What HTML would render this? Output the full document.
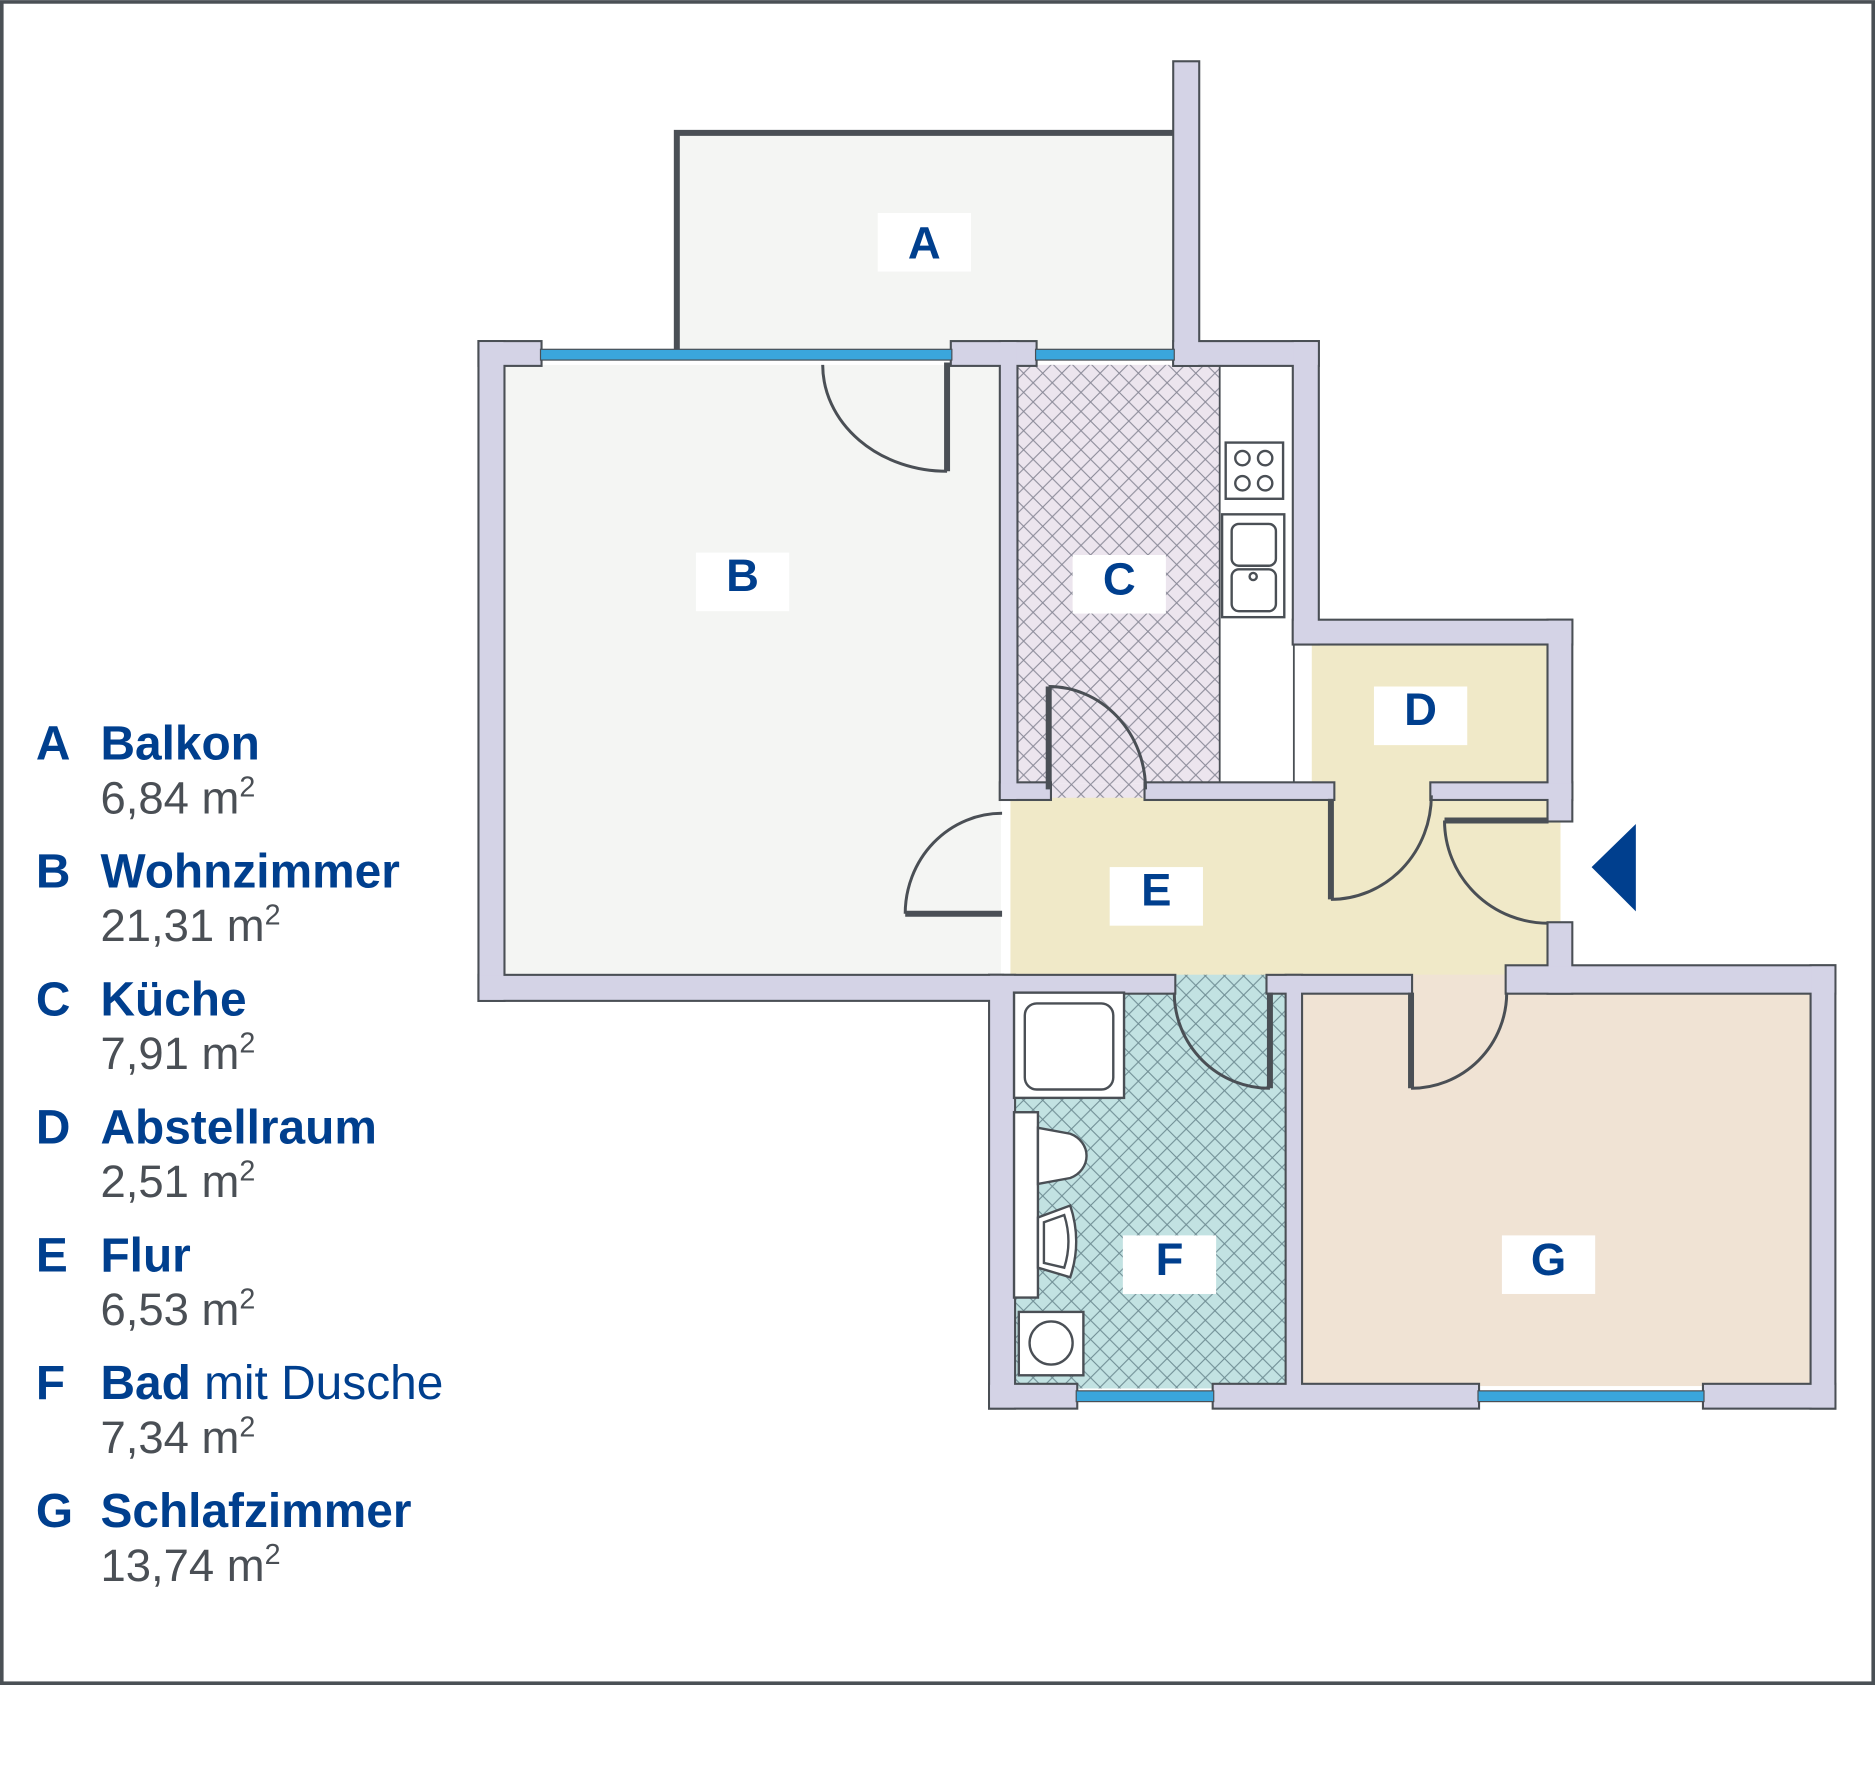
<!DOCTYPE html>
<html><head><meta charset="utf-8"><style>
html,body{margin:0;padding:0;background:#fff;}
svg{display:block;}
</style></head><body>
<svg width="1875" height="1782" viewBox="0 0 1568 1490" xmlns="http://www.w3.org/2000/svg" font-family="Liberation Sans, sans-serif">
<defs>
<pattern id="hc" width="16" height="16" patternUnits="userSpaceOnUse">
<rect width="16" height="16" fill="#ece5ee"/>
<path d="M0,0L16,16M16,0L0,16" stroke="#8a8a98" stroke-width="0.9"/>
</pattern>
<pattern id="hf" width="16" height="16" patternUnits="userSpaceOnUse">
<rect width="16" height="16" fill="#c2e2e2"/>
<path d="M0,0L16,16M16,0L0,16" stroke="#6f8d94" stroke-width="0.9"/>
</pattern>
<g id="walls">
<rect x="982" y="52" width="20" height="253"/>
<rect x="401" y="286" width="20" height="550"/>
<rect x="401" y="816" width="437" height="20"/>
<rect x="401" y="286" width="51" height="19"/>
<rect x="796" y="286" width="70" height="19"/>
<rect x="837" y="286" width="13" height="382"/>
<rect x="982" y="286" width="120" height="19"/>
<rect x="1082" y="286" width="20" height="252"/>
<rect x="1082" y="519" width="232" height="19"/>
<rect x="1295" y="519" width="19" height="167"/>
<rect x="837" y="655" width="41" height="13"/>
<rect x="958" y="655" width="157" height="13"/>
<rect x="1197" y="655" width="117" height="13"/>
<rect x="1295" y="772" width="19" height="58"/>
<rect x="828" y="816" width="154" height="14"/>
<rect x="1060" y="816" width="120" height="14"/>
<rect x="1260" y="808" width="274" height="22"/>
<rect x="828" y="816" width="20" height="361"/>
<rect x="1076" y="816" width="12" height="344"/>
<rect x="1515" y="808" width="19" height="369"/>
<rect x="828" y="1158" width="72" height="19"/>
<rect x="1015" y="1158" width="221" height="19"/>
<rect x="1425" y="1158" width="109" height="19"/>
</g>
</defs>
<rect x="1.5" y="1.5" width="1565" height="1406" fill="#fff" stroke="#4a5055" stroke-width="3"/>

<rect x="566" y="111" width="416" height="184" fill="#f4f5f3"/>
<path d="M566,293 L566,111 L982,111" fill="none" stroke="#4a4f55" stroke-width="5"/>

<rect x="421" y="305" width="416" height="511" fill="#f4f5f3"/>
<rect x="850" y="305" width="170" height="350" fill="url(#hc)"/>
<rect x="1020" y="305" width="62" height="350" fill="#fff" stroke="#4a4f55" stroke-width="1.5"/>
<rect x="878" y="655" width="80" height="13" fill="url(#hc)"/>
<rect x="1097" y="538" width="198" height="118" fill="#f0e9c8"/>
<rect x="845" y="667" width="460" height="150" fill="#f0e9c8"/>
<rect x="1115" y="655" width="82" height="14" fill="#f0e9c8"/>
<rect x="848" y="829" width="228" height="332" fill="url(#hf)"/>
<rect x="982" y="815" width="80" height="16" fill="url(#hf)"/>
<rect x="1088" y="829" width="427" height="330" fill="#f0e3d4"/>
<rect x="1180" y="815" width="80" height="16" fill="#f0e3d4"/>

<use href="#walls" fill="#d4d3e6" stroke="#4a4f55" stroke-width="3.5"/>
<use href="#walls" fill="#d4d3e6" stroke="none"/>

<g fill="#3aa6dc" stroke="#4a4f55" stroke-width="1">
<rect x="452" y="292" width="344" height="9"/>
<rect x="866" y="292" width="116" height="9"/>
<rect x="900" y="1163" width="115" height="9"/>
<rect x="1236" y="1163" width="189" height="9"/>
</g>

<g fill="none" stroke="#4a4f55" stroke-width="2.5">
<path d="M688,305 A104,89 0 0,0 792,394"/>
<path d="M877,574 A81,86 0 0,1 958,660"/>
<path d="M838,680 A81,84 0 0,0 757,764"/>
<path d="M1113,752 A84,87 0 0,0 1197,665"/>
<path d="M1208,686 A87,86 0 0,0 1295,772"/>
<path d="M982,830 A80,80 0 0,0 1062,910"/>
<path d="M1180,910 A80,80 0 0,0 1260,830"/>
</g>
<g stroke="#4a4f55" stroke-width="5" fill="none">
<path d="M792,303 L792,394"/>
<path d="M877,660 L877,574"/>
<path d="M757,764 L838,764"/>
<path d="M1113,668 L1113,752"/>
<path d="M1208,686 L1295,686"/>
<path d="M1062,830 L1062,910"/>
<path d="M1180,830 L1180,910"/>
</g>

<g fill="#fff" stroke="#4a4f55" stroke-width="2">
<rect x="1025" y="370" width="48" height="47"/>
<circle cx="1039" cy="383" r="6"/><circle cx="1058" cy="383" r="6"/>
<circle cx="1039" cy="404" r="6"/><circle cx="1058" cy="404" r="6"/>
<rect x="1022" y="430" width="52" height="86"/>
<rect x="1030" y="438" width="37" height="35" rx="6"/>
<rect x="1030" y="476" width="37" height="35" rx="6"/>
<circle cx="1048" cy="482" r="3"/>
<rect x="848" y="830" width="92" height="88"/>
<rect x="857" y="839" width="74" height="72" rx="10"/>
<rect x="848" y="930" width="20" height="155"/>
<path d="M868,943 L895,948 A22,20 0 0,1 895,985 L868,990 Z"/>
<path d="M868,1018 L895,1008 Q905,1038 895,1068 L868,1060 Z"/>
<path d="M873,1022 L890,1016 Q897,1038 890,1060 L873,1056 Z"/>
<rect x="852" y="1097" width="54" height="53"/>
<circle cx="879" cy="1123" r="18"/>
</g>

<path d="M1368,689 L1368,762 L1331,725 Z" fill="#003f8e"/>

<g fill="#fff">
<rect x="734" y="178" width="78" height="49"/>
<rect x="582" y="462" width="78" height="49"/>
<rect x="897" y="464" width="78" height="49"/>
<rect x="1149" y="574" width="78" height="49"/>
<rect x="928" y="725" width="78" height="49"/>
<rect x="939" y="1033" width="78" height="49"/>
<rect x="1256" y="1033" width="78" height="49"/>
</g>
<g fill="#003f8e" font-weight="bold" font-size="38" text-anchor="middle">
<text x="773" y="216">A</text>
<text x="621" y="494">B</text>
<text x="936" y="497">C</text>
<text x="1188" y="606">D</text>
<text x="967" y="757">E</text>
<text x="978" y="1066">F</text>
<text x="1295" y="1066">G</text>
</g>

<g font-size="40">
<g fill="#003f8e" font-weight="bold">
<text x="30" y="635">A</text><text x="84" y="635">Balkon</text>
<text x="30" y="742">B</text><text x="84" y="742">Wohnzimmer</text>
<text x="30" y="849">C</text><text x="84" y="849">Küche</text>
<text x="30" y="956">D</text><text x="84" y="956">Abstellraum</text>
<text x="30" y="1063">E</text><text x="84" y="1063">Flur</text>
<text x="30" y="1170">F</text><text x="84" y="1170">Bad <tspan font-weight="normal">mit Dusche</tspan></text>
<text x="30" y="1277">G</text><text x="84" y="1277">Schlafzimmer</text>
</g>
<g fill="#4a4f55" font-size="38">
<text x="84" y="680">6,84 m<tspan font-size="24" dy="-14">2</tspan></text>
<text x="84" y="787">21,31 m<tspan font-size="24" dy="-14">2</tspan></text>
<text x="84" y="894">7,91 m<tspan font-size="24" dy="-14">2</tspan></text>
<text x="84" y="1001">2,51 m<tspan font-size="24" dy="-14">2</tspan></text>
<text x="84" y="1108">6,53 m<tspan font-size="24" dy="-14">2</tspan></text>
<text x="84" y="1215">7,34 m<tspan font-size="24" dy="-14">2</tspan></text>
<text x="84" y="1322">13,74 m<tspan font-size="24" dy="-14">2</tspan></text>
</g>
</g>
</svg>
</body></html>
